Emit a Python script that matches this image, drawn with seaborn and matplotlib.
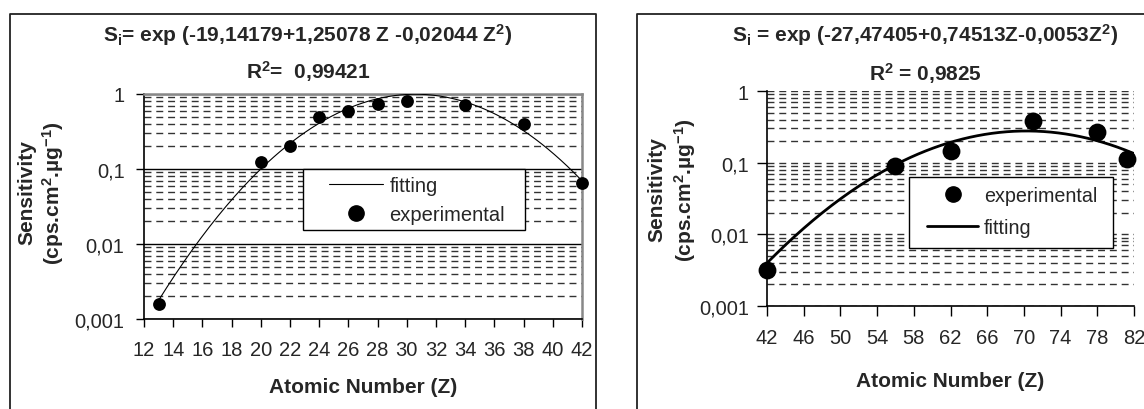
import numpy as np
import pandas as pd
import matplotlib
matplotlib.use("Agg")
import matplotlib.pyplot as plt
import seaborn as sns
from matplotlib.lines import Line2D
from matplotlib.patches import Rectangle
from matplotlib.ticker import FixedLocator, FixedFormatter, LogLocator, NullFormatter

# Daten linke Grafik (leichte Elemente, Z = 13 ... 42)
z_links = [13, 20, 22, 24, 26, 28, 30, 34, 38, 42]
s_links = [0.0016, 0.124, 0.2, 0.49, 0.6, 0.74, 0.81, 0.71, 0.4, 0.066]
koeff_links = [-19.14179, 1.25078, -0.02044]   # Koeffizienten aus dem Titel
xticks_links = [12, 14, 16, 18, 20, 22, 24, 26, 28, 30, 32, 34, 36, 38, 40, 42]

# Daten rechte Grafik (schwere Elemente, Z = 42 ... 82)
z_rechts = [42, 56, 62, 71, 78, 81.2]
s_rechts = [0.0032, 0.089, 0.145, 0.38, 0.27, 0.112]
koeff_rechts = [-27.47405, 0.74513, -0.0053]
xticks_rechts = [42, 46, 50, 54, 58, 62, 66, 70, 74, 78, 82]

# y-Achse (logarithmisch), Beschriftung mit Dezimalkomma
yticks = [0.001, 0.01, 0.1, 1]
ytick_labels = ["0,001", "0,01", "0,1", "1"]

titel_links = r"S$_{\mathbf{i}}$= exp (-19,14179+1,25078 Z -0,02044 Z$^{\mathbf{2}}$)"
r2_links = r"R$^{\mathbf{2}}$=  0,99421"
titel_rechts = r"S$_{\mathbf{i}}$ = exp (-27,47405+0,74513Z-0,0053Z$^{\mathbf{2}}$)"
r2_rechts = r"R$^{\mathbf{2}}$ = 0,9825"

sns.set_style("white")
plt.rcParams['font.family'] = ['Liberation Sans', 'DejaVu Sans']
plt.rcParams['mathtext.fontset'] = 'custom'
plt.rcParams['mathtext.rm'] = 'Liberation Sans'
plt.rcParams['mathtext.bf'] = 'Liberation Sans:bold'
plt.rcParams['mathtext.it'] = 'Liberation Sans:italic'

W, H = 1144, 410
fig = plt.figure(figsize=(W / 100, H / 100), dpi=100)


def px_axes(links, oben, rechts, unten):
    # Achsenposition in Pixeln -> Figure-Koordinaten
    return fig.add_axes([links / W, 1 - unten / H, (rechts - links) / W, (unten - oben) / H])


ax1 = px_axes(144, 95, 582, 320)
ax2 = px_axes(767, 92, 1134, 307)

# Fit-Kurven aus den Koeffizienten im Titel
z_fit1 = np.linspace(13, 42, 200)
s_fit1 = np.exp(koeff_links[0] + koeff_links[1] * z_fit1 + koeff_links[2] * z_fit1 ** 2)
z_fit2 = np.linspace(42, 82, 200)
s_fit2 = np.exp(koeff_rechts[0] + koeff_rechts[1] * z_fit2 + koeff_rechts[2] * z_fit2 ** 2)

df1 = pd.DataFrame({"Z": z_links, "S": s_links})
df2 = pd.DataFrame({"Z": z_rechts, "S": s_rechts})

sns.lineplot(x=z_fit1, y=s_fit1, ax=ax1, color="black", lw=0.8, sort=False, estimator=None, zorder=3)
sns.scatterplot(data=df1, x="Z", y="S", ax=ax1, color="black", s=85, edgecolor="black",
                linewidth=0, clip_on=False, zorder=4)

sns.lineplot(x=z_fit2, y=s_fit2, ax=ax2, color="black", lw=2.0, sort=False, estimator=None, zorder=3)
sns.scatterplot(data=df2, x="Z", y="S", ax=ax2, color="black", s=165, edgecolor="black",
                linewidth=0, clip_on=False, zorder=4)

for ax, xt, (x0, x1) in [(ax1, xticks_links, (12, 42)), (ax2, xticks_rechts, (42, 82))]:
    ax.set_yscale("log")
    ax.set_ylim(0.001, 1)
    ax.set_xlim(x0, x1)
    ax.xaxis.set_major_locator(FixedLocator(xt))
    ax.set_xticklabels([str(v) for v in xt])
    ax.yaxis.set_major_locator(FixedLocator(yticks))
    ax.yaxis.set_major_formatter(FixedFormatter(ytick_labels))
    ax.yaxis.set_minor_locator(LogLocator(base=10, subs=[2, 3, 4, 5, 6, 7, 8, 9]))
    ax.yaxis.set_minor_formatter(NullFormatter())
    ax.tick_params(axis="both", which="major", direction="out", length=6, width=1,
                   color="black", labelsize=14.5, bottom=True, left=True)
    ax.tick_params(axis="x", pad=9)
    ax.tick_params(axis="y", which="minor", length=0)
    ax.set_xlabel("")
    ax.set_ylabel("")
    ax.grid(which="minor", axis="y", color="#333333", lw=1.0, ls=(0, (5, 3.5)))
    ax.spines["left"].set_color("black")
    ax.spines["bottom"].set_color("black")
    ax.spines["left"].set_linewidth(1.2)
    ax.spines["bottom"].set_linewidth(1.2)

ax1.tick_params(axis="y", pad=8)
ax2.tick_params(axis="y", pad=6, length=7)
ax2.tick_params(axis="x", length=7)

# linke Grafik: Hauptgitter durchgezogen, Rahmen oben/rechts grau
ax1.grid(which="major", axis="y", color="black", lw=1.0, ls="-")
ax1.spines["top"].set_color("#888888")
ax1.spines["right"].set_color("#888888")
ax1.spines["top"].set_linewidth(1.8)
ax1.spines["right"].set_linewidth(1.8)

# rechte Grafik: alles gestrichelt, kein Rahmen oben/rechts
ax2.grid(which="major", axis="y", color="#333333", lw=1.0, ls=(0, (5, 3.5)))
ax2.spines["top"].set_visible(False)
ax2.spines["right"].set_visible(False)

# Legenden: Kasten separat gezeichnet, Legende ohne eigenen Rahmen
ax1.add_patch(Rectangle((0.363, 0.396), 0.507, 0.271, transform=ax1.transAxes,
                        facecolor="white", edgecolor="black", lw=1.0, zorder=4.5))
h_fit1 = Line2D([], [], color="black", lw=0.8)
h_exp1 = Line2D([], [], marker="o", ls="none", color="black", markersize=11)
leg1 = ax1.legend([h_fit1, h_exp1], ["fitting", "experimental"], loc="center left",
                  bbox_to_anchor=(0.4224, 0.529), frameon=False, fontsize=14.5,
                  handlelength=2.7, handletextpad=0.3, labelspacing=0.5,
                  borderpad=0, borderaxespad=0)
leg1.set_zorder(6)

ax2.add_patch(Rectangle((0.387, 0.27), 0.556, 0.33, transform=ax2.transAxes,
                        facecolor="white", edgecolor="black", lw=1.0, zorder=4.5))
h_fit2 = Line2D([], [], color="black", lw=2.0)
h_exp2 = Line2D([], [], marker="o", ls="none", color="black", markersize=11)
leg2 = ax2.legend([h_exp2, h_fit2], ["experimental", "fitting"], loc="center left",
                  bbox_to_anchor=(0.436, 0.44), frameon=False, fontsize=14.2,
                  handlelength=2.6, handletextpad=0.3, labelspacing=0.65,
                  borderpad=0, borderaxespad=0)
leg2.set_zorder(6)

# Titel, Achsentitel
def ftext(x, y, s, **kw):
    fig.text(x / W, 1 - y / H, s, ha="center", va="center", fontsize=15, fontweight="bold", **kw)


ftext(308, 35, titel_links)
ftext(308, 72, r2_links)
ftext(925, 35, titel_rechts)
ftext(925, 74, r2_rechts)

ftext(363, 388, "Atomic Number (Z)")
ftext(950, 382, "Atomic Number (Z)")

ylabel2 = r"(cps.cm$^{\mathbf{2}}$.µg$^{\mathbf{-1}}$)"
ftext(27, 193, "Sensitivity", rotation=90)
ftext(53, 193, ylabel2, rotation=90)
ftext(657, 190, "Sensitivity", rotation=90)
ftext(685, 190, ylabel2, rotation=90)

# Rahmen der beiden Excel-Diagrammbereiche
fig.add_artist(Line2D([10 / W, 10 / W, 596 / W, 596 / W], [0, 1 - 15 / H, 1 - 15 / H, 0],
                      transform=fig.transFigure, color="#222222", lw=1.3))
fig.add_artist(Line2D([637 / W, 637 / W, 1], [0, 1 - 15 / H, 1 - 15 / H],
                      transform=fig.transFigure, color="#222222", lw=1.3))

fig.savefig("out.png", dpi=100)
